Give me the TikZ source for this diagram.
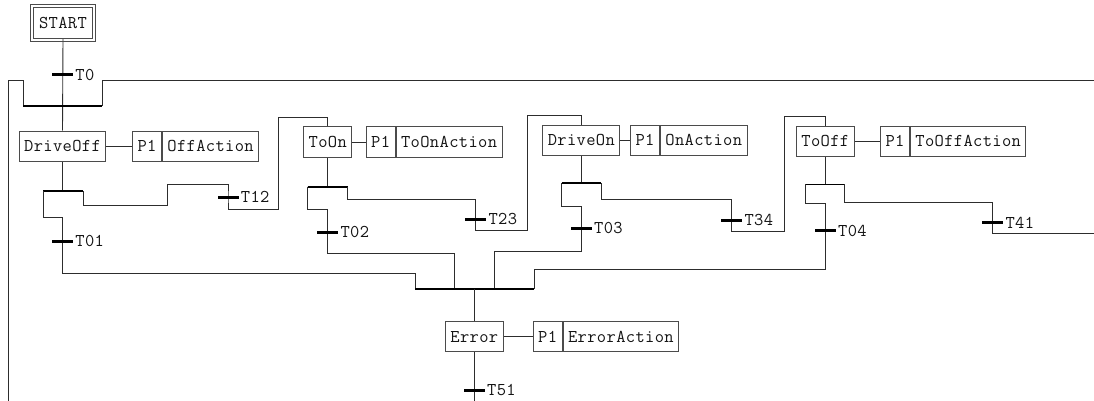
\documentclass[tikz,border=0pt]{standalone}
\usepackage{fontspec}
\setmonofont[LetterSpace=2]{Latin Modern Mono}
\usepackage{tikz}
\usetikzlibrary{positioning,backgrounds}
\definecolor{wiregray}{RGB}{45, 45, 45}
\definecolor{boxgray}{RGB}{75, 75, 75}
\definecolor{inkblack}{RGB}{20, 20, 20}

\tikzset{
  stepbox/.style={draw=boxgray, line width=1pt, fill=white, inner xsep=5pt, inner ysep=0pt, minimum height=30pt, text=inkblack},
  actbox/.style={stepbox, anchor=west},
  transbar/.style={fill=black, inner sep=0pt, minimum width=21pt, minimum height=3pt},
  tlabel/.style={inner sep=2pt, text=inkblack},
  wire/.style={draw=wiregray, line width=0.9pt},
  syncbar/.style={draw=black, line width=2pt},
}

\begin{document}
\begin{tikzpicture}[x=1pt, y=-1pt, every node/.style={font=\ttfamily\fontsize{18}{20}\selectfont}]
    \useasboundingbox (0,0) rectangle (1094,401);

    % Initial step
    \node[stepbox, minimum width=59pt, minimum height=31pt] (start) at (63,22.7) {START};
    \draw[boxgray, line width=1pt] ([shift={(-2.5,-2.5)}]start.north west) rectangle ([shift={(2.5,2.5)}]start.south east);

    % Steps and their actions
    \node[stepbox] (driveoff) at (62.5,146) {DriveOff};
    \node[actbox] (driveoffP) at (132,146) {P1};
    \node[actbox] (driveoffA) at (driveoffP.east) {OffAction};

    \node[stepbox] (toon) at (327.7,142) {ToOn};
    \node[actbox] (toonP) at (365.7,142) {P1};
    \node[actbox] (toonA) at (toonP.east) {ToOnAction};

    \node[stepbox] (driveon) at (581.3,140.3) {DriveOn};
    \node[actbox] (driveonP) at (630,140.3) {P1};
    \node[actbox] (driveonA) at (driveonP.east) {OnAction};

    \node[stepbox] (tooff) at (825.3,141.3) {ToOff};
    \node[actbox] (tooffP) at (880,141.3) {P1};
    \node[actbox] (tooffA) at (tooffP.east) {ToOffAction};

    \node[stepbox] (error) at (474.3,336.7) {Error};
    \node[actbox] (errorP) at (532.7,336.7) {P1};
    \node[actbox] (errorA) at (errorP.east) {ErrorAction};

    % Transitions
    \node[transbar, label={[tlabel]east:T0}] (t0) at (62.5,75) {};
    \node[transbar, label={[tlabel]east:T01}] (t01) at (62.5,241) {};
    \node[transbar, label={[tlabel]east:T12}] (t12) at (228,197) {};
    \node[transbar, label={[tlabel]east:T02}] (t02) at (327.7,232.3) {};
    \node[transbar, label={[tlabel]east:T23}] (t23) at (475.7,219) {};
    \node[transbar, label={[tlabel]east:T03}] (t03) at (581.3,228.3) {};
    \node[transbar, label={[tlabel]east:T34}] (t34) at (731.7,220.3) {};
    \node[transbar, label={[tlabel]east:T04}] (t04) at (825.3,230.7) {};
    \node[transbar, label={[tlabel]east:T41}] (t41) at (992.7,222.7) {};
    \node[transbar, label={[tlabel]east:T51}] (t51) at (474.3,390) {};

    % Branch and join points
    \coordinate (topL) at (23,106);
    \coordinate (topR) at (102,106);
    \coordinate (backin) at (8,401);
    \coordinate (backout) at (474.3,401);
    \coordinate (wrapin) at (1094,80);
    \coordinate (wrapout) at (1094,233.3);
    \coordinate (divA) at (43,191);
    \coordinate (divB) at (83,191);
    \coordinate (divC) at (307.7,186.7);
    \coordinate (divD) at (347.7,186.7);
    \coordinate (divE) at (561.7,183);
    \coordinate (divF) at (601,183);
    \coordinate (divG) at (805.7,184.3);
    \coordinate (divH) at (844.3,184.3);
    \coordinate (joinL) at (415,288.7);
    \coordinate (joinR) at (534,288.7);
    \coordinate (joinM) at (474.3,288.7);

    \begin{scope}[on background layer]
    % Connections to the first step
    \draw[wire] (start.south) -- (driveoff.north);
    \draw[wire] (backin) |- (23,80) -- (topL);
    \draw[wire] (wrapin) -| (topR);
    \draw[syncbar] (topL) -- (topR);

    % Action links
    \draw[wire] (driveoff) -- (driveoffP);
    \draw[wire] (toon) -- (toonP);
    \draw[wire] (driveon) -- (driveonP);
    \draw[wire] (tooff) -- (tooffP);
    \draw[wire] (error) -- (errorP);

    % DriveOff branches
    \draw[wire] (driveoff.south) -- (62.5,191);
    \draw[syncbar, line width=1.6pt] (divA) -- (divB);
    \draw[wire] (divA) |- (62.5,217) -- (t01.center) -- (62.5,273) -| (joinL);
    \draw[wire] (divB) |- (167,205) |- (228,184) -- (t12.center) -- (228,209) -| (278,117) -| (toon.north);

    % ToOn branches
    \draw[wire] (toon.south) -- (327.7,186.7);
    \draw[syncbar, line width=1.6pt] (divC) -- (divD);
    \draw[wire] (divC) |- (327.7,209) -- (t02.center) -- (327.7,253.3) -| (454.3,288.7);
    \draw[wire] (divD) |- (475.7,199) -- (t23.center) -- (475.7,230) -| (527.7,115.7) -| (driveon.north);

    % DriveOn branches
    \draw[wire] (driveon.south) -- (581.3,183);
    \draw[syncbar, line width=1.6pt] (divE) -- (divF);
    \draw[wire] (divE) |- (581.3,206.7) -- (t03.center) -- (581.3,251.3) -| (494.3,288.7);
    \draw[wire] (divF) |- (731.7,199) -- (t34.center) -- (731.7,231.7) -| (784.3,116.5) -| (tooff.north);

    % ToOff branches
    \draw[wire] (tooff.south) -- (825.3,184.3);
    \draw[syncbar, line width=1.6pt] (divG) -- (divH);
    \draw[wire] (divG) |- (825.3,203.3) -- (t04.center) -- (825.3,269.3) -| (joinR);
    \draw[wire] (divH) |- (992.7,202.7) -- (t41.center) -- (992.7,233.3) -- (wrapout);

    % Error step
    \draw[syncbar] (joinL) -- (joinR);
    \draw[wire] (joinM) -- (error.north);
    \draw[wire] (error.south) -- (t51.center) -- (backout);
    \end{scope}
\end{tikzpicture}
\end{document}
